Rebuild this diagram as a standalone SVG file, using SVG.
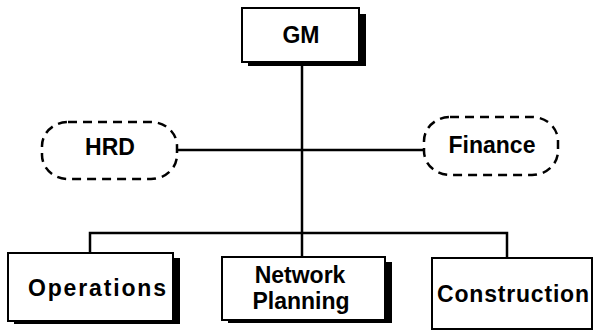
<svg xmlns="http://www.w3.org/2000/svg" width="593" height="332" viewBox="0 0 593 332">
  <style>
    .box { fill: #fff; stroke: #000; stroke-width: 2; }
    .shadow { fill: #000; }
    .staff { fill: #fff; stroke: #000; stroke-width: 2.5; stroke-dasharray: 9 6; }
    .link { fill: none; stroke: #000; stroke-width: 2.5; }
    .label { font-family: "Liberation Sans", Arial, sans-serif; font-weight: bold; font-size: 23px; fill: #000; text-anchor: middle; }
  </style>
  <rect width="593" height="332" fill="#fff"/>

  <!-- reporting lines -->
  <g id="connectors">
    <line class="link" x1="302" y1="62" x2="302" y2="257"/>
    <line class="link" x1="177" y1="150" x2="424" y2="150"/>
    <polyline class="link" points="90,253 90,233 507,233 507,258"/>
  </g>

  <g id="gm">
    <rect class="shadow" x="248" y="14" width="118" height="52"/>
    <rect class="box" x="242" y="8" width="117" height="54"/>
    <text class="label" x="301" y="43">GM</text>
  </g>

  <g id="hrd">
    <rect class="staff" x="42" y="122" width="135" height="57" rx="26" ry="24"/>
    <text class="label" x="110" y="155">HRD</text>
  </g>

  <g id="finance">
    <rect class="staff" x="424" y="117" width="134" height="58" rx="26" ry="24"/>
    <text class="label" x="492" y="153">Finance</text>
  </g>

  <g id="operations">
    <rect class="shadow" x="14" y="258" width="166" height="66"/>
    <rect class="box" x="8" y="253" width="165" height="68"/>
    <text class="label" x="97" y="296" textLength="138" lengthAdjust="spacing">Operations</text>
  </g>

  <g id="network-planning">
    <rect class="shadow" x="228" y="262" width="164" height="61"/>
    <rect class="box" x="222" y="257" width="163" height="63"/>
    <text class="label" x="300" y="283">Network</text>
    <text class="label" x="301" y="309">Planning</text>
  </g>

  <g id="construction">
    <rect class="box" x="432" y="258" width="160" height="71"/>
    <text class="label" x="513" y="302" textLength="152" lengthAdjust="spacing">Construction</text>
  </g>
</svg>
